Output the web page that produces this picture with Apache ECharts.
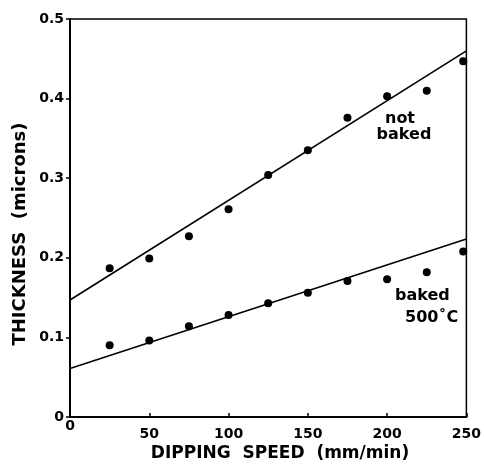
<!DOCTYPE html>
<html>
<head>
<meta charset="utf-8">
<script src="https://cdn.jsdelivr.net/npm/echarts@6/dist/echarts.min.js"></script>
<style>
  html, body { margin: 0; padding: 0; background: #fff; }
  #chart { width: 484px; height: 467px; }
</style>
</head>
<body>
<div id="chart"></div>
<script>
// Dipping speed (mm/min) and measured film thickness (microns)
const speeds = [25, 50, 75, 100, 125, 150, 175, 200, 225, 248];
const notBaked = [0.187, 0.199, 0.227, 0.261, 0.304, 0.335, 0.376, 0.403, 0.410, 0.447];
const baked500 = [0.090, 0.096, 0.114, 0.128, 0.143, 0.156, 0.171, 0.173, 0.182, 0.208];

// Straight-line fits drawn across the full speed range
const fitSpeeds = [0, 250];
const fitNotBaked = [0.147, 0.460];
const fitBaked = [0.061, 0.2235];

const FONT = 'DejaVu Sans';
const pair = (xs, ys) => xs.map((x, i) => [x, ys[i]]);

const chart = echarts.init(document.getElementById('chart'), null, { renderer: 'canvas' });

const labelText = (t, x, y, align) => ({
  type: 'text', x, y,
  style: {
    text: t, align, verticalAlign: 'middle',
    fontFamily: FONT, fontWeight: 'bold', fontSize: 16, fill: '#000'
  }
});

chart.setOption({
  backgroundColor: '#fff',
  animation: false,
  grid: {
    left: 70, right: 15, top: 19, bottom: 50,
    show: true, borderColor: '#000', borderWidth: 1.5
  },
  xAxis: {
    type: 'value', min: 0, max: 250, interval: 50,
    axisLine: { show: true, lineStyle: { color: '#000', width: 2 } },
    axisTick: { show: true, inside: true, length: 4, lineStyle: { color: '#000', width: 1.5 } },
    splitLine: { show: false },
    axisLabel: {
      margin: 2,
      formatter: v => v === 0 ? '{z|0}' : '{n|' + v + '}',
      rich: {
        z: { fontFamily: FONT, fontWeight: 'bold', fontSize: 14, color: '#000' },
        n: { fontFamily: FONT, fontWeight: 'bold', fontSize: 14, color: '#000', padding: [8, 0, 0, 0] }
      }
    }
  },
  yAxis: {
    type: 'value', min: 0, max: 0.5, interval: 0.1,
    axisLine: { show: true, lineStyle: { color: '#000', width: 2 } },
    axisTick: { show: true, inside: false, length: 4, lineStyle: { color: '#000', width: 1.5 } },
    splitLine: { show: false },
    axisLabel: {
      margin: 6,
      formatter: v => v === 0 ? '0' : v.toFixed(1),
      fontFamily: FONT, fontWeight: 'bold', fontSize: 14, color: '#000'
    }
  },
  graphic: [
    {
      type: 'text', x: 280, y: 454,
      style: {
        text: 'DIPPING  SPEED  (mm/min)', align: 'center', verticalAlign: 'middle',
        fontFamily: FONT, fontWeight: 'bold', fontSize: 17, fill: '#000'
      }
    },
    {
      type: 'text', x: 20, y: 234, rotation: Math.PI / 2,
      style: {
        text: 'THICKNESS  (microns)', align: 'center', verticalAlign: 'middle',
        fontFamily: FONT, fontWeight: 'bold', fontSize: 18, fill: '#000'
      }
    },
    labelText('not', 400, 119, 'center'),
    labelText('baked', 404, 135, 'center'),
    labelText('baked', 395, 296, 'left'),
    labelText('500˚C', 405, 318, 'left')
  ],
  series: [
    {
      type: 'line', data: pair(fitSpeeds, fitNotBaked), symbol: 'none',
      lineStyle: { color: '#000', width: 1.6 }, silent: true
    },
    {
      type: 'line', data: pair(fitSpeeds, fitBaked), symbol: 'none',
      lineStyle: { color: '#000', width: 1.6 }, silent: true
    },
    {
      type: 'scatter', data: pair(speeds, notBaked), symbol: 'circle', symbolSize: 8,
      itemStyle: { color: '#000', opacity: 1 }
    },
    {
      type: 'scatter', data: pair(speeds, baked500), symbol: 'circle', symbolSize: 8,
      itemStyle: { color: '#000', opacity: 1 }
    }
  ]
});
</script>
</body>
</html>
